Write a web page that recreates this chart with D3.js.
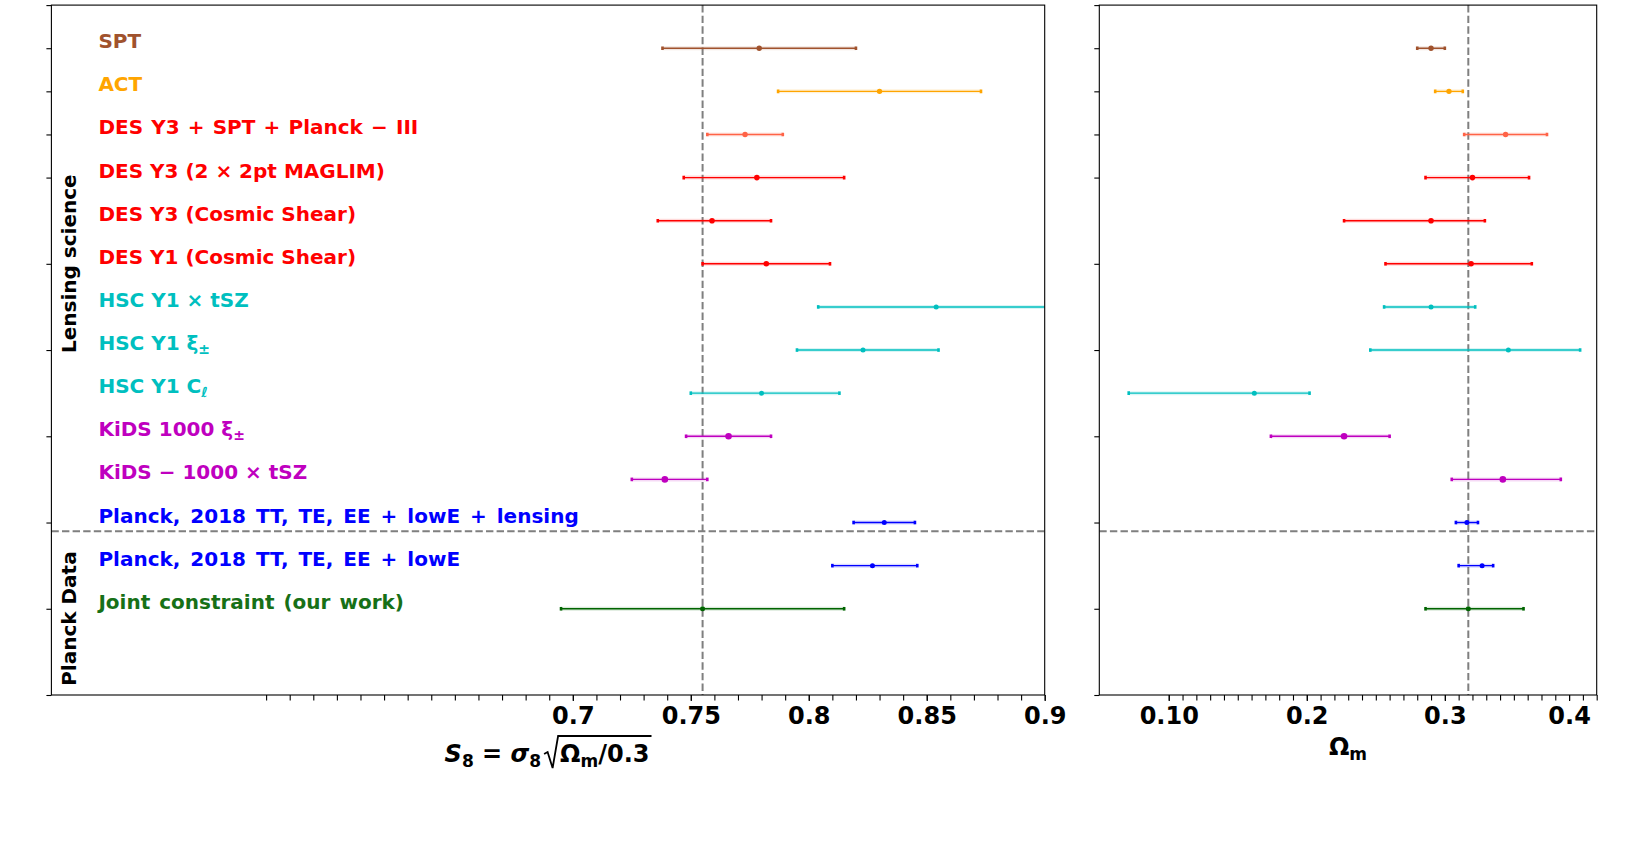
<!DOCTYPE html>
<html>
<head>
<meta charset="utf-8">
<style>
  body { margin: 0; background: #fff; }
  text { font-family: "DejaVu Sans", sans-serif; font-weight: bold; }
</style>
</head>
<body>
<svg width="1644" height="868"></svg>
<script src="https://cdn.jsdelivr.net/npm/d3@7"></script>
<script>

// rows, top to bottom; _{..} marks a subscript
var labels = [
  "SPT",
  "ACT",
  "DES Y3 + SPT + Planck \u2212 III",
  "DES Y3 (2 \u00d7 2pt MAGLIM)",
  "DES Y3 (Cosmic Shear)",
  "DES Y1 (Cosmic Shear)",
  "HSC Y1 \u00d7 tSZ",
  "HSC Y1 \u03be_{\u00b1}",
  "HSC Y1 C_{\u2113}",
  "KiDS 1000 \u03be_{\u00b1}",
  "KiDS \u2212 1000 \u00d7 tSZ",
  "Planck, 2018 TT, TE, EE + lowE + lensing",
  "Planck, 2018 TT, TE, EE + lowE",
  "Joint constraint (our work)"
];

var s8Val = [0.779, 0.830, 0.773, 0.778, 0.759, 0.782, 0.854, 0.823, 0.780, 0.766, 0.739, 0.832, 0.827, 0.755];
var s8Lo  = [0.738, 0.787, 0.757, 0.747, 0.736, 0.755, 0.804, 0.795, 0.750, 0.748, 0.725, 0.819, 0.810, 0.695];
var s8Hi  = [0.820, 0.873, 0.789, 0.815, 0.784, 0.809, 0.904, 0.855, 0.813, 0.784, 0.757, 0.845, 0.846, 0.815];

var omVal = [0.290, 0.303, 0.344, 0.320, 0.290, 0.319, 0.290, 0.346, 0.162, 0.227, 0.342, 0.316, 0.327, 0.317];
var omLo  = [0.280, 0.293, 0.314, 0.286, 0.227, 0.257, 0.256, 0.246, 0.071, 0.174, 0.305, 0.308, 0.310, 0.286];
var omHi  = [0.300, 0.313, 0.374, 0.361, 0.329, 0.363, 0.322, 0.398, 0.202, 0.260, 0.384, 0.324, 0.335, 0.357];

var refS8 = 0.755, refOm = 0.317, splitRow = 11.2;

var s8Ticks = [0.7, 0.75, 0.8, 0.85, 0.9],
    s8TickLabels = ["0.7", "0.75", "0.8", "0.85", "0.9"];
// the last label sits one minor tick short of 0.4 in the original figure
var omTicks = [0.1, 0.2, 0.3, 0.39],
    omTickLabels = ["0.10", "0.2", "0.3", "0.4"];
var rowTicks = [-1, 0, 1, 2, 3, 5, 7, 9, 11, 13, 15];

// styles
var barColor  = ["#a0522d", "#ffa500", "#ff6347", "#ff0000", "#ff0000", "#ff0000", "#00bfbf", "#00bfbf", "#00bfbf",
                 "#bf00bf", "#bf00bf", "#0000ff", "#0000ff", "#006400"];
var textColor = ["#a0522d", "#ffa500", "#ff0000", "#ff0000", "#ff0000", "#ff0000", "#00bfbf", "#00bfbf", "#00bfbf",
                 "#bf00bf", "#bf00bf", "#0000ff", "#0000ff", "#177017"];
var wordGap = [0, 0, 1.2, 0, 0, 0, 0, 0, 0, 0, 0, 3, 3, 2];
var dotR = [2.7, 2.7, 2.7, 2.8, 2.8, 2.8, 2.5, 2.5, 2.5, 3.3, 3.3, 2.5, 2.5, 2.5];

var svg = d3.select("svg");
svg.append("rect").attr("width", 1644).attr("height", 868).attr("fill", "#fff");

var yTop = 5.1, yBottom = 695;
var y = d3.scaleLinear().domain([-1, 15]).range([yTop, yBottom]);

var xL = d3.scaleLinear().domain([0.479, 0.9]).range([51.4, 1044.7]);
var xR = d3.scaleLinear().domain([0.0497, 0.41]).range([1099.3, 1596.7]);

function panel(x, val, lo, hi, ref, ticks, tickLabels, minor, id) {
  var r = x.range();
  var g = svg.append("g");

  svg.append("clipPath").attr("id", id)
    .append("rect").attr("x", r[0]).attr("y", yTop).attr("width", r[1] - r[0]).attr("height", yBottom - yTop);

  // minor ticks
  g.append("g")
      .attr("transform", "translate(0," + yBottom + ")")
      .call(d3.axisBottom(x).tickValues(minor).tickFormat("").tickSize(5.5))
      .call(function(a) { a.select(".domain").remove(); a.selectAll("line").attr("stroke-width", 1.1); });

  // major ticks
  g.append("g")
      .attr("transform", "translate(0," + yBottom + ")")
      .call(d3.axisBottom(x).tickValues(ticks).tickFormat(function(d, i) { return tickLabels[i]; }).tickSize(6))
      .call(function(a) {
        a.select(".domain").remove();
        a.selectAll("line").attr("stroke-width", 1.1);
        a.selectAll("text").attr("y", 28.5).attr("dy", 0)
          .attr("font-size", 24).attr("font-family", "DejaVu Sans").attr("font-weight", "bold").attr("fill", "#000");
      });

  g.append("g")
      .attr("transform", "translate(" + r[0] + ",0)")
      .call(d3.axisLeft(y).tickValues(rowTicks).tickFormat("").tickSize(5))
      .call(function(a) { a.select(".domain").remove(); a.selectAll("line").attr("stroke-width", 1.1); });

  var inner = g.append("g").attr("clip-path", "url(#" + id + ")");

  // reference lines
  inner.append("line")
      .attr("x1", x(ref)).attr("x2", x(ref)).attr("y1", yTop).attr("y2", yBottom)
      .attr("stroke", "#7f7f7f").attr("stroke-width", 2).attr("stroke-dasharray", "7.4,3.2");
  inner.append("line")
      .attr("x1", r[0]).attr("x2", r[1]).attr("y1", y(splitRow)).attr("y2", y(splitRow))
      .attr("stroke", "#7f7f7f").attr("stroke-width", 2).attr("stroke-dasharray", "7.4,3.2");

  var bars = inner.selectAll("g.bar")
    .data(val)
    .enter().append("g").attr("class", "bar");

  bars.append("line")
      .attr("x1", function(d, i) { return x(lo[i]); })
      .attr("x2", function(d, i) { return x(hi[i]); })
      .attr("y1", function(d, i) { return y(i); })
      .attr("y2", function(d, i) { return y(i); })
      .attr("stroke", function(d, i) { return barColor[i]; })
      .attr("stroke-width", 4).attr("stroke-opacity", 0.15);

  bars.append("line")
      .attr("x1", function(d, i) { return x(lo[i]); })
      .attr("x2", function(d, i) { return x(hi[i]); })
      .attr("y1", function(d, i) { return y(i); })
      .attr("y2", function(d, i) { return y(i); })
      .attr("stroke", function(d, i) { return barColor[i]; })
      .attr("stroke-width", 1.4);

  [lo, hi].forEach(function(arr) {
    bars.append("line")
        .attr("x1", function(d, i) { return x(arr[i]); })
        .attr("x2", function(d, i) { return x(arr[i]); })
        .attr("y1", function(d, i) { return y(i) - 1.8; })
        .attr("y2", function(d, i) { return y(i) + 1.8; })
        .attr("stroke", function(d, i) { return barColor[i]; })
        .attr("stroke-width", 2.6);
  });

  bars.append("circle")
      .attr("cx", function(d) { return x(d); })
      .attr("cy", function(d, i) { return y(i); })
      .attr("r", function(d, i) { return dotR[i]; })
      .attr("fill", function(d, i) { return barColor[i]; });

  g.append("rect")
      .attr("x", r[0]).attr("y", yTop).attr("width", r[1] - r[0]).attr("height", yBottom - yTop)
      .attr("fill", "none").attr("stroke", "#000").attr("stroke-width", 1.1);
}

panel(xL, s8Val, s8Lo, s8Hi, refS8, s8Ticks, s8TickLabels, d3.range(57, 91).map(function(k) { return k / 100; }), "clipL");
panel(xR, omVal, omLo, omHi, refOm, omTicks, omTickLabels, d3.range(10, 42).map(function(k) { return k / 100; }), "clipR");

// row labels
labels.forEach(function(s, i) {
  var t = svg.append("text")
      .attr("x", xL.range()[0] + 47)
      .attr("y", y(i))
      .attr("font-size", 20)
      .attr("word-spacing", wordGap[i])
      .attr("fill", textColor[i]);
  s.split(/(_\{[^}]*\})/).forEach(function(part) {
    if (!part) return;
    var m = part.match(/^_\{([^}]*)\}$/);
    if (m) {
      t.append("tspan").attr("font-size", 14).attr("dy", 4).attr("font-style", m[1] === "\u2113" ? "italic" : null).text(m[1]);
      t.append("tspan").attr("dy", -4).text("");
    } else {
      t.append("tspan").text(part);
    }
  });
});

// group labels on the left
svg.append("text")
    .attr("transform", "translate(76," + 263.7 + ") rotate(-90)")
    .attr("text-anchor", "middle").attr("font-size", 20).attr("fill", "#000")
    .text("Lensing science");
svg.append("text")
    .attr("transform", "translate(76," + 618.6 + ") rotate(-90)")
    .attr("text-anchor", "middle").attr("font-size", 20).attr("fill", "#000")
    .text("Planck Data");

// x label left: S8 = sigma8 sqrt(Omega_m / 0.3)
var base = 762;
var lab = svg.append("g");
var t1 = lab.append("text").attr("y", base).attr("font-size", 24).attr("fill", "#000");
t1.append("tspan").attr("font-style", "italic").text("S");
t1.append("tspan").attr("font-size", 17).attr("dy", 5).text("8");
t1.append("tspan").attr("dy", -5).text(" = ");
t1.append("tspan").attr("font-style", "italic").text("\u03c3");
t1.append("tspan").attr("font-size", 17).attr("dy", 5).text("8");
var w1 = t1.node().getComputedTextLength();

var rx = w1 + 3;
var t2 = lab.append("text").attr("x", rx + 16).attr("y", base).attr("font-size", 24).attr("fill", "#000");
t2.append("tspan").text("\u03a9");
t2.append("tspan").attr("font-size", 17).attr("dy", 5).text("m");
t2.append("tspan").attr("dy", -5).text("/0.3");
var w2 = t2.node().getComputedTextLength();

lab.append("path")
    .attr("d", "M" + rx + "," + (base - 8) + "L" + (rx + 3.5) + "," + (base - 10) +
               "L" + (rx + 8.5) + "," + (base + 6) + "L" + (rx + 14) + "," + (base - 26) +
               "L" + (rx + 18 + w2) + "," + (base - 26))
    .attr("fill", "none").attr("stroke", "#000").attr("stroke-width", 1.8);

var wTot = rx + 18 + w2;
var cx = (xL.range()[0] + xL.range()[1]) / 2;
lab.attr("transform", "translate(" + (cx - wTot / 2) + ",0)");

// x label right
var t3 = svg.append("text")
    .attr("x", (xR.range()[0] + xR.range()[1]) / 2)
    .attr("y", 755).attr("text-anchor", "middle").attr("font-size", 24).attr("fill", "#000");
t3.append("tspan").text("\u03a9");
t3.append("tspan").attr("font-size", 17).attr("dy", 5).text("m");

</script>
</body>
</html>
